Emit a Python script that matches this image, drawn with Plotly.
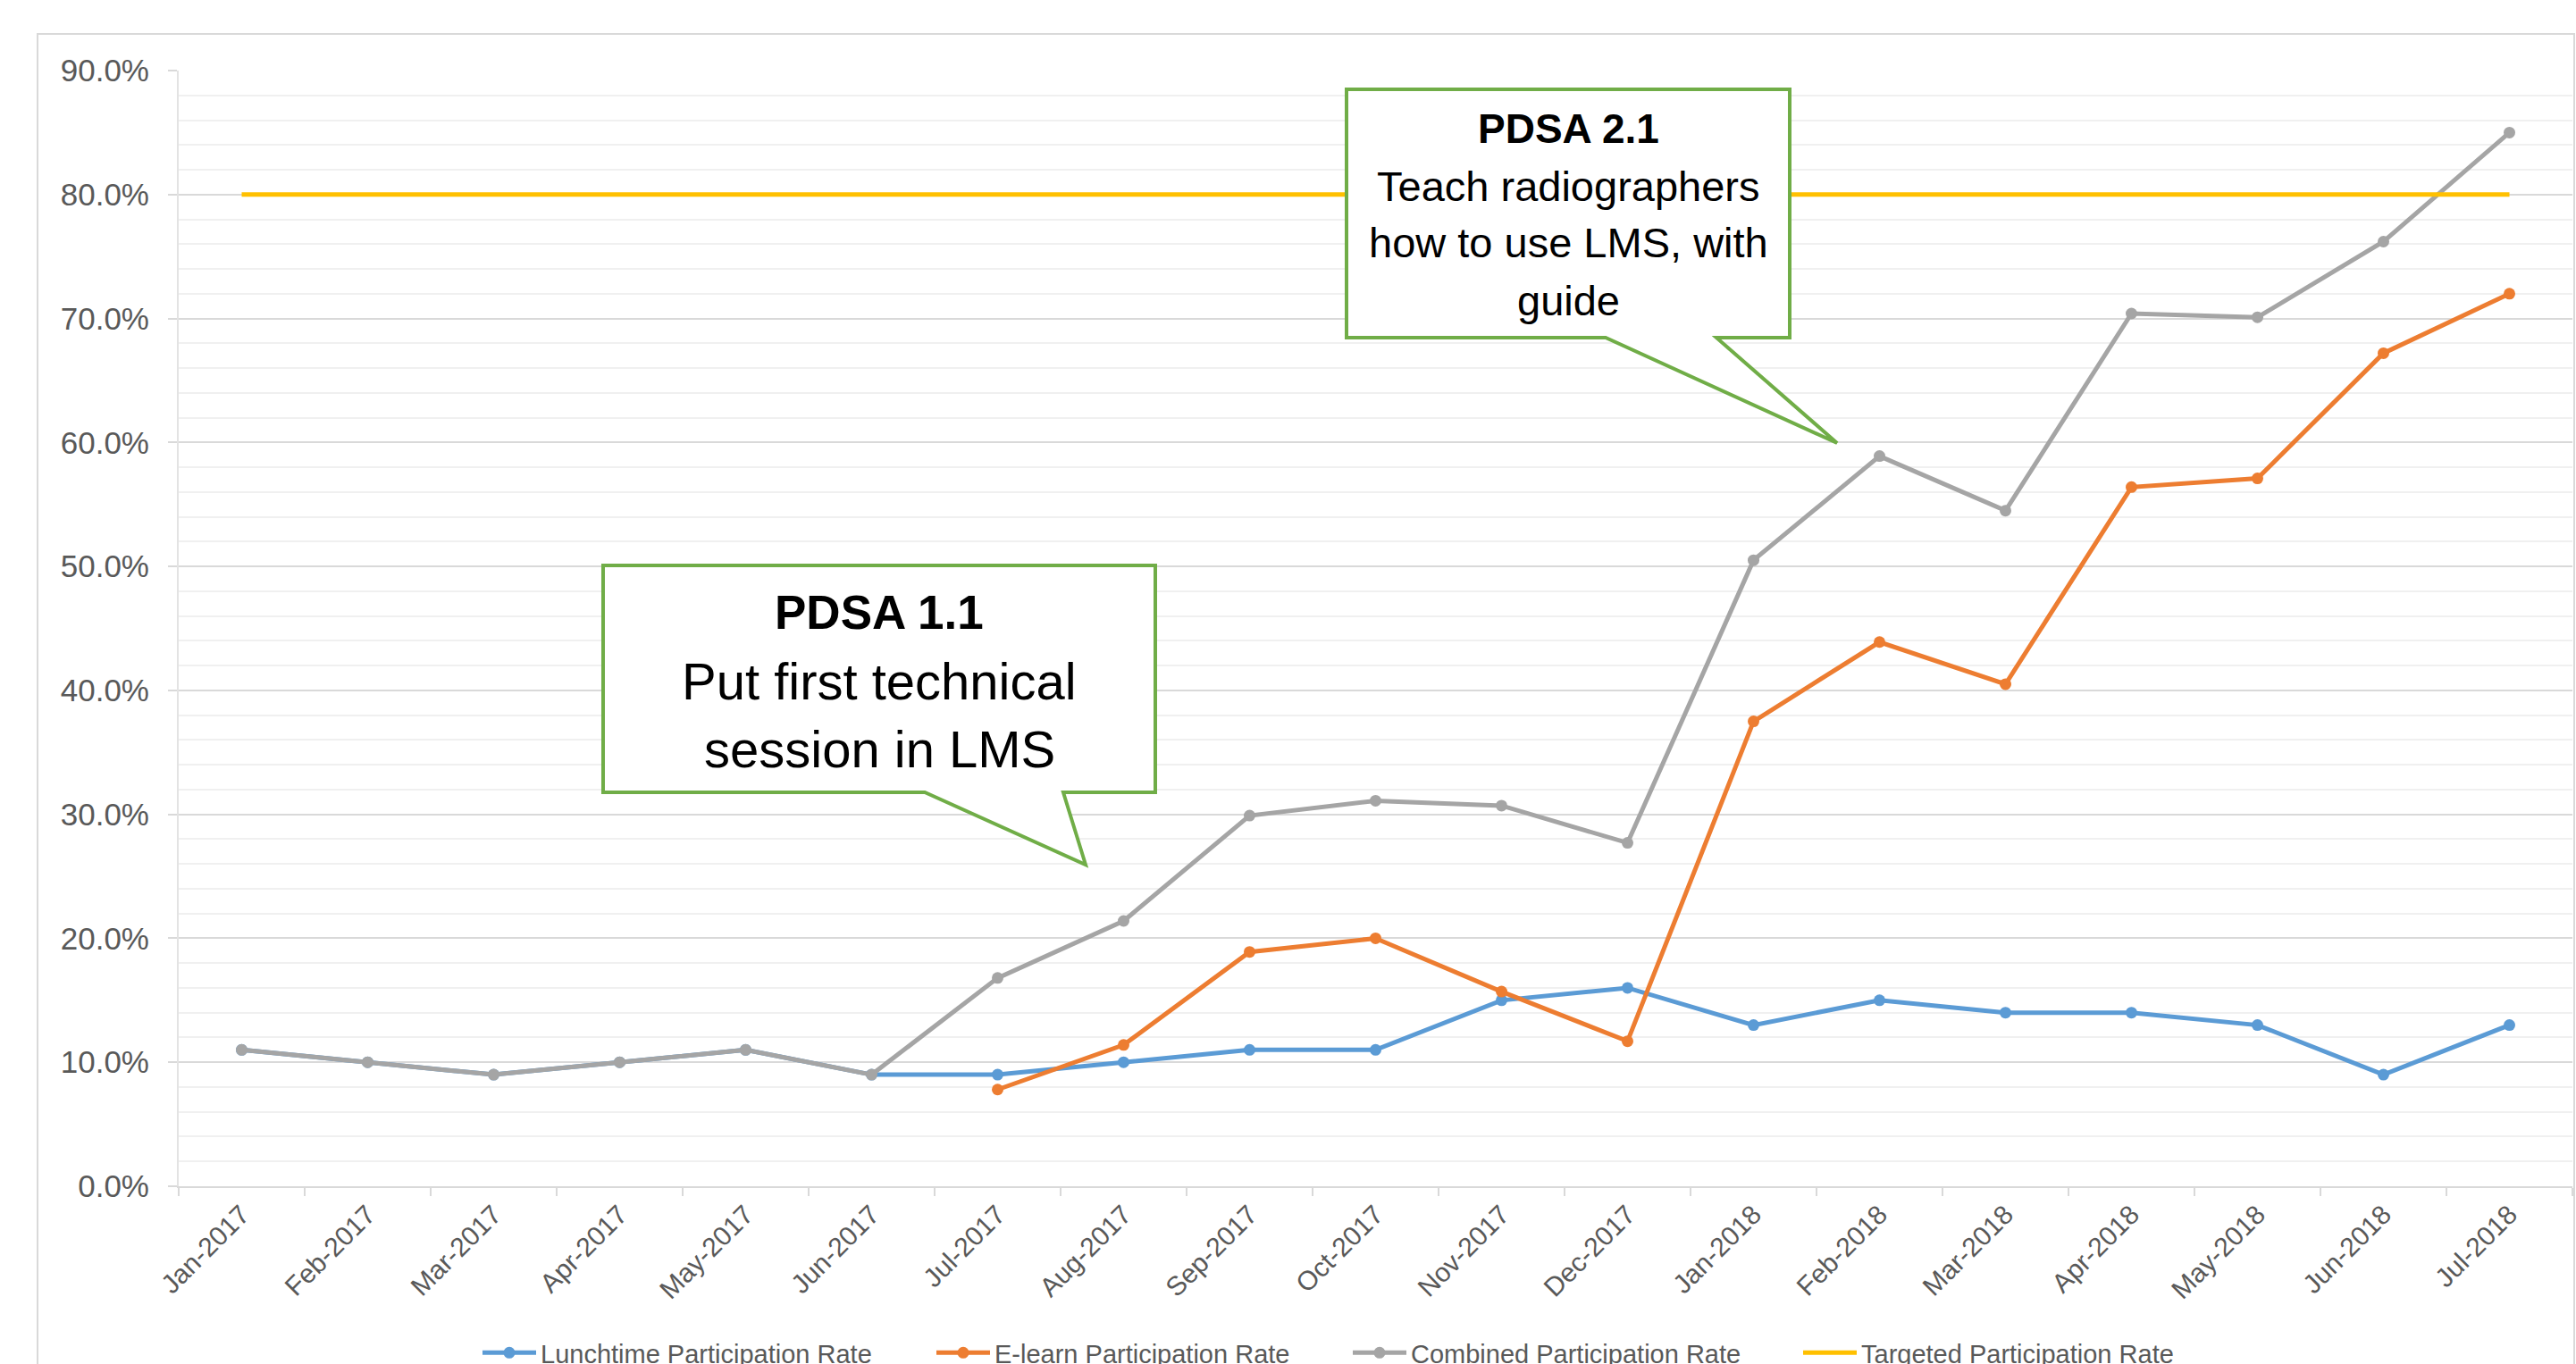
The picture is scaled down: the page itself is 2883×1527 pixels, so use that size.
import plotly.graph_objects as go

months = ["Jan-2017", "Feb-2017", "Mar-2017", "Apr-2017", "May-2017", "Jun-2017",
          "Jul-2017", "Aug-2017", "Sep-2017", "Oct-2017", "Nov-2017", "Dec-2017",
          "Jan-2018", "Feb-2018", "Mar-2018", "Apr-2018", "May-2018", "Jun-2018", "Jul-2018"]

lunchtime = [0.11, 0.10, 0.09, 0.10, 0.11, 0.09, 0.09, 0.10, 0.11, 0.11, 0.15, 0.16,
             0.13, 0.15, 0.14, 0.14, 0.13, 0.09, 0.13]
elearn = [None, None, None, None, None, None, 0.078, 0.114, 0.189, 0.200, 0.157, 0.117,
          0.375, 0.439, 0.405, 0.564, 0.571, 0.672, 0.720]
combined = [0.11, 0.10, 0.09, 0.10, 0.11, 0.09, 0.168, 0.214, 0.299, 0.311, 0.307, 0.277,
            0.505, 0.589, 0.545, 0.704, 0.701, 0.762, 0.850]
target = [0.80] * 19

series_names = ["Lunchtime Participation Rate", "E-learn Participation Rate",
                "Combined Participation Rate", "Targeted Participation Rate"]
colors = ["#5B9BD5", "#ED7D31", "#A5A5A5", "#FFC000"]

W, H = 2883, 1527
L, R, T, B = 200, 4, 79, 199
PW, PH = W - L - R, H - T - B


def px(X):
    return (X - L) / PW


def py(Y):
    return (H - B - Y) / PH


fig = go.Figure()
data = [lunchtime, elearn, combined]
legends = ["legend", "legend2", "legend3", "legend4"]
for i, ys in enumerate(data):
    fig.add_trace(go.Scatter(
        x=months, y=ys, name=series_names[i], mode="lines+markers",
        line=dict(color=colors[i], width=5),
        marker=dict(color=colors[i], size=13, symbol="circle"),
        legend=legends[i], connectgaps=False,
    ))
fig.add_trace(go.Scatter(
    x=months, y=target, name=series_names[3], mode="lines",
    line=dict(color=colors[3], width=5), legend=legends[3],
))

FONT = "Liberation Sans, Arial, sans-serif"
GREY = "#595959"


def bubble(pts):
    return "M " + " L ".join(f"{px(a):.5f},{py(b):.5f}" for a, b in pts) + " Z"


c1 = [(675, 633), (1293, 633), (1293, 887), (1190, 887), (1215, 968), (1035, 887), (675, 887)]
c2 = [(1507, 100), (2003, 100), (2003, 378), (1921, 378), (2056, 496), (1797, 378), (1507, 378)]

shapes = [
    dict(type="rect", xref="paper", yref="paper", x0=px(42), x1=px(2881), y0=py(1600), y1=py(38),
         line=dict(color="#D9D9D9", width=2), fillcolor="rgba(0,0,0,0)", layer="below"),
    dict(type="path", xref="paper", yref="paper", path=bubble(c1),
         line=dict(color="#70AD47", width=4), fillcolor="white", layer="above"),
    dict(type="path", xref="paper", yref="paper", path=bubble(c2),
         line=dict(color="#70AD47", width=4), fillcolor="white", layer="above"),
]


def line_ann(text, cx, baseline, size, bold=False):
    t = f"<b>{text}</b>" if bold else text
    return dict(xref="paper", yref="paper", x=px(cx), y=py(baseline - 0.36 * size),
                text=t, showarrow=False, xanchor="center", yanchor="middle",
                font=dict(family=FONT, size=size, color="black"))


annotations = [
    line_ann("PDSA 1.1", 984, 705, 53, True),
    line_ann("Put first technical", 984, 783, 58),
    line_ann("session in LMS", 984, 859, 58),
    line_ann("PDSA 2.1", 1755, 161, 46, True),
    line_ann("Teach radiographers", 1755, 225, 47),
    line_ann("how to use LMS, with", 1755, 288, 47),
    line_ann("guide", 1755, 353, 47),
]

leg_common = dict(orientation="h", xanchor="left", yanchor="top", bgcolor="rgba(0,0,0,0)",
                  font=dict(family=FONT, size=29, color=GREY), itemwidth=60)
leg_x = [540, 1048, 1514, 2018]
leg_y = py(1489)

layout_legends = {}
for name, lx in zip(legends, leg_x):
    layout_legends[name] = dict(leg_common, x=px(lx - 5), y=leg_y)

fig.update_layout(
    width=W, height=H,
    margin=dict(l=L, r=R, t=T, b=B, pad=0, autoexpand=False),
    paper_bgcolor="white", plot_bgcolor="white",
    showlegend=True,
    shapes=shapes, annotations=annotations,
    xaxis=dict(
        type="category", range=[-0.5, 18.5], showgrid=False, automargin=False,
        showline=True, linecolor="#D9D9D9", linewidth=2,
        ticks="outside", ticklen=9, tickwidth=2, tickcolor="#D9D9D9",
        tickson="boundaries", tickangle=-45,
        tickfont=dict(family=FONT, size=30, color=GREY),
        zeroline=False,
    ),
    yaxis=dict(
        range=[0, 0.9], dtick=0.1, tickformat=".1%", automargin=False,
        showgrid=True, gridcolor="#D9D9D9", gridwidth=2,
        minor=dict(dtick=0.02, showgrid=True, gridcolor="#F0F0F0", gridwidth=2),
        showline=True, linecolor="#E3E3E3", linewidth=2,
        ticks="outside", ticklen=10, tickwidth=2, tickcolor="#D9D9D9",
        tickfont=dict(family=FONT, size=35, color=GREY),
        ticklabelstandoff=14,
        zeroline=False,
    ),
    **layout_legends,
)

fig.write_html("out.html", config={"displayModeBar": False},
               post_script="document.body.style.margin='0';")
